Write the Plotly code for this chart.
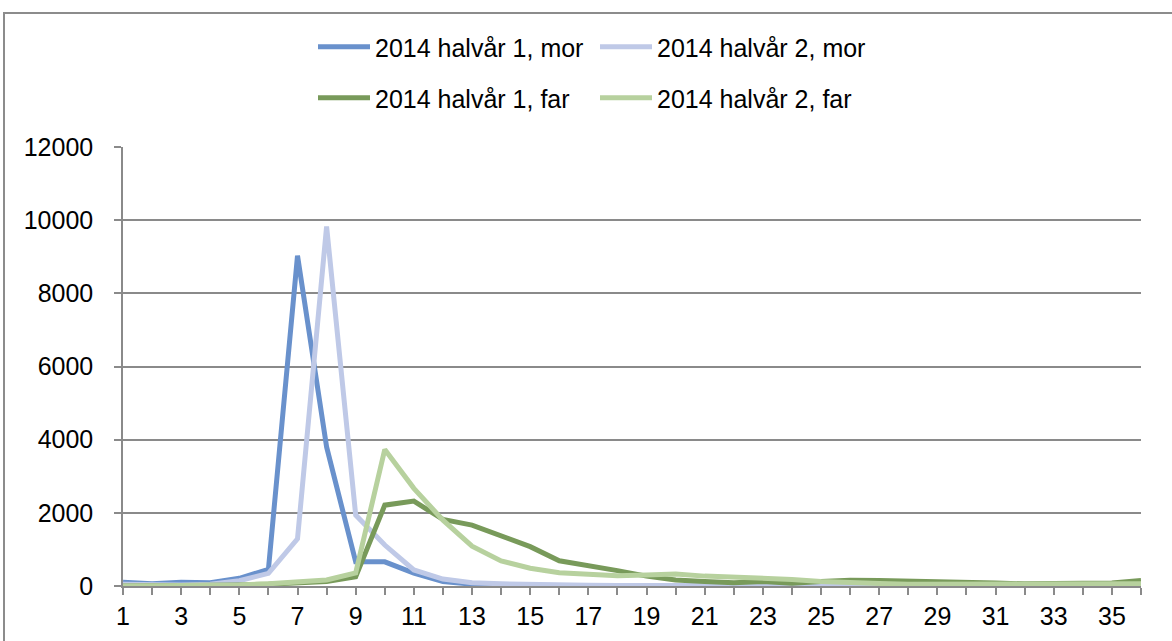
import plotly.graph_objects as go

weeks = list(range(1, 37))

mor_h1 = [100, 60, 100, 90, 210, 455, 9030, 3800, 660, 660, 350, 120, 50, 25, 20, 15, 10, 10, 10, 10,
          10, 10, 10, 10, 10, 10, 10, 10, 10, 10, 10, 10, 10, 10, 10, 10]
mor_h2 = [50, 30, 30, 50, 145, 345, 1290, 9830, 1940, 1120, 440, 190, 90, 60, 40, 30, 20, 15, 15, 15,
          15, 15, 15, 15, 15, 10, 10, 10, 10, 10, 10, 10, 10, 10, 10, 10]
far_h1 = [0, 0, 10, 20, 30, 50, 80, 120, 250, 2210, 2320, 1820, 1665, 1365, 1075, 690, 565, 420, 270, 165,
          120, 90, 120, 75, 120, 160, 150, 140, 120, 100, 80, 60, 60, 60, 80, 150]
far_h2 = [0, 0, 10, 20, 30, 60, 115, 165, 360, 3730, 2670, 1800, 1090, 685, 485, 365, 320, 280, 300, 330,
          270, 237, 237, 180, 120, 80, 70, 50, 50, 50, 50, 50, 50, 50, 50, 60]

names = ["2014 halvår 1, mor", "2014 halvår 2, mor", "2014 halvår 1, far", "2014 halvår 2, far"]
colors = ["#6991cc", "#bfc9e7", "#789a5a", "#b7d19e"]
legends = ["legend", "legend", "legend2", "legend2"]

fig = go.Figure()
for name, vals, col, leg in zip(names, [mor_h1, mor_h2, far_h1, far_h2], colors, legends):
    fig.add_trace(go.Scatter(x=weeks, y=vals, name=name, mode="lines",
                             line=dict(color=col, width=5), legend=leg))

grid = "#8a8a8a"
font = dict(family="Liberation Sans, Arial, sans-serif", size=25, color="#000000")

leg_common = dict(orientation="h", xanchor="left", yanchor="middle", font=font,
                  itemwidth=52, entrywidth=215, bgcolor="rgba(0,0,0,0)", traceorder="normal")

fig.update_layout(
    width=1172, height=641,
    margin=dict(l=123, r=31, t=147, b=55),
    paper_bgcolor="white", plot_bgcolor="white",
    font=font,
    legend=dict(x=(313 - 123) / 1018, y=(586 - 47) / 439, **leg_common),
    legend2=dict(x=(313 - 123) / 1018, y=(586 - 98) / 439, **leg_common),
    xaxis=dict(range=[1, 36], tick0=1, dtick=2, showgrid=False, zeroline=False,
               showline=True, linecolor=grid, linewidth=1.5,
               ticks="outside", ticklen=7, tickcolor=grid, tickwidth=1.5,
               minor=dict(dtick=1, tick0=1, ticks="outside", ticklen=7, tickcolor=grid, tickwidth=1.5),
               ticklabelstandoff=0, tickfont=font),
    yaxis=dict(range=[0, 12000], dtick=2000, tickformat="d", showgrid=True, gridcolor=grid, gridwidth=1.5,
               zeroline=False, showline=True, linecolor=grid, linewidth=1.5,
               ticks="outside", ticklen=7, tickcolor=grid, tickwidth=1.5,
               ticklabelstandoff=16, tickfont=font),
    showlegend=True,
)

# outer chart frame (left and top edges visible)
x0 = (4 - 123) / 1018
y1 = (586 - 13) / 439
fig.add_shape(type="path", xref="paper", yref="paper",
              path=f"M {x0} -0.3 L {x0} {y1} L 1.2 {y1}",
              line=dict(color="#8c8c8c", width=2))

fig.write_html("out.html", config={"displayModeBar": False},
               post_script="document.body.style.margin='0';")
